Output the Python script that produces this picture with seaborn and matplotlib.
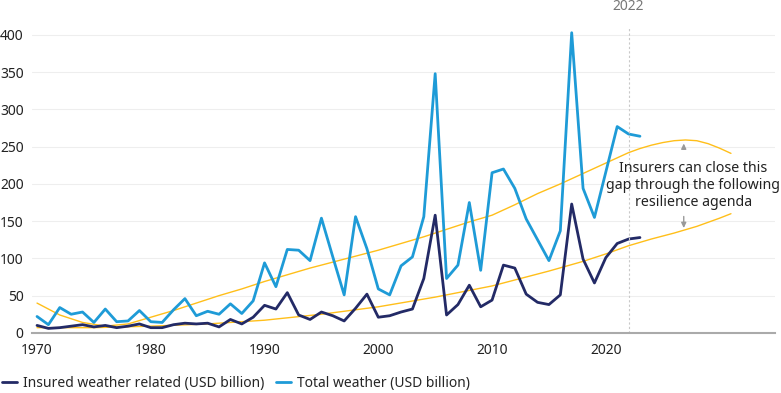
import numpy as np
import pandas as pd
import matplotlib
matplotlib.use("Agg")
import matplotlib.pyplot as plt
import seaborn as sns

# Data (USD billion)
years = list(range(1970, 2024))
insured = [10, 6, 7, 9, 11, 8, 10, 7, 9, 12,
           7, 7, 11, 13, 12, 13, 8, 18, 12, 21,
           37, 32, 54, 24, 18, 28, 23, 16, 33, 52,
           21, 23, 28, 32, 73, 158, 24, 38, 64, 35,
           44, 91, 87, 52, 41, 38, 51, 173, 99, 67,
           101, 120, 126, 128]
total = [22, 11, 34, 25, 28, 14, 32, 15, 16, 30,
         15, 14, 31, 46, 23, 29, 25, 39, 26, 43,
         94, 62, 112, 111, 97, 154, 102, 51, 156, 113,
         59, 51, 90, 102, 156, 348, 73, 91, 175, 84,
         215, 220, 194, 153, 125, 97, 137, 403, 194, 155,
         216, 277, 267, 264]

# Trend curves
upper_years = [1970, 1972, 1974, 1976, 1978, 1980, 1982, 1984, 1986, 1988,
               1990, 1992, 1994, 1996, 1998, 2000, 2002, 2004, 2006, 2008,
               2010, 2012, 2014, 2016, 2018, 2020, 2021, 2022, 2023, 2024,
               2025, 2026, 2027, 2028, 2029, 2030, 2031]
upper_vals = [40, 24, 14, 9, 12, 21, 30, 40, 50, 59,
              69, 78, 87, 95, 103, 111, 120, 129, 139, 149,
              158, 172, 187, 200, 214, 228, 235, 242, 247.5, 252,
              255.5, 258, 259, 258, 254, 248, 241]
lower_years = [1970, 1975, 1980, 1985, 1990, 1995, 2000, 2005, 2010, 2015,
               2018, 2020, 2022, 2024, 2026, 2028, 2030, 2031]
lower_vals = [7, 7, 9, 12, 17, 25, 35, 48, 63, 83,
              96, 106, 117, 126, 134, 143, 154, 160]

yticks = [0, 50, 100, 150, 200, 250, 300, 350, 400]
xticks = [1970, 1980, 1990, 2000, 2010, 2020]

navy = "#232a66"
blue = "#1e9bd7"
gold = "#ffbf1a"

sns.set_theme(style="white")
plt.rcParams["font.family"] = ["Noto Sans", "DejaVu Sans"]

fig = plt.figure(figsize=(7.81, 3.93), dpi=100)
ax = fig.add_axes([0.041, 0.153, 0.951, 0.777])

sns.lineplot(x=upper_years, y=upper_vals, color=gold, lw=1.0, ax=ax)
sns.lineplot(x=lower_years, y=lower_vals, color=gold, lw=1.0, ax=ax)
sns.lineplot(x=years, y=insured, color=navy, lw=2.0, ax=ax,
             label="Insured weather related (USD billion)")
sns.lineplot(x=years, y=total, color=blue, lw=2.0, ax=ax,
             label="Total weather (USD billion)")

ax.set_xlim(1969.56, 2034.85)
ax.set_ylim(0, 410)
ax.set_yticks(yticks)
ax.set_xticks(xticks)
ax.grid(axis="y", color="#eeeeee", lw=0.8)
ax.set_axisbelow(True)
for s in ["left", "right", "top"]:
    ax.spines[s].set_visible(False)
ax.spines["bottom"].set_color("#aaaaaa")
ax.spines["bottom"].set_linewidth(1.5)
ax.tick_params(axis="both", length=0, labelsize=10, colors="#222222")
ax.tick_params(axis="y", pad=6)
ax.tick_params(axis="x", pad=7)
ax.set_xlabel("")
ax.set_ylabel("")

# 2022 marker
ax.axvline(2022, color="#c8c8c8", lw=0.8, ls=(0, (2, 2)))
ax.annotate("2022", xy=(2022, 1.07), xycoords=("data", "axes fraction"),
            ha="center", va="center", fontsize=10, color="#777777")

# gap annotation
ax.text(2027.7, 198, "Insurers can close this\ngap through the following\nresilience agenda",
        ha="center", va="center", fontsize=10.2, color="#222222", linespacing=1.15)
ax.annotate("", xy=(2026.85, 258), xytext=(2026.85, 243),
            arrowprops=dict(arrowstyle="-|>,head_width=0.12,head_length=0.25",
                            color="#999999", lw=1))
ax.annotate("", xy=(2026.85, 137), xytext=(2026.85, 160),
            arrowprops=dict(arrowstyle="-|>,head_width=0.12,head_length=0.25",
                            color="#999999", lw=1))

ax.legend_.remove()
h, l = ax.get_legend_handles_labels()
fig.legend(h, l, loc="lower left", bbox_to_anchor=(-0.005, -0.008), ncol=2,
           frameon=False, fontsize=10, handlelength=1.1, handletextpad=0.45,
           columnspacing=0.8, borderaxespad=0.0)

fig.savefig("out.png", dpi=100)
